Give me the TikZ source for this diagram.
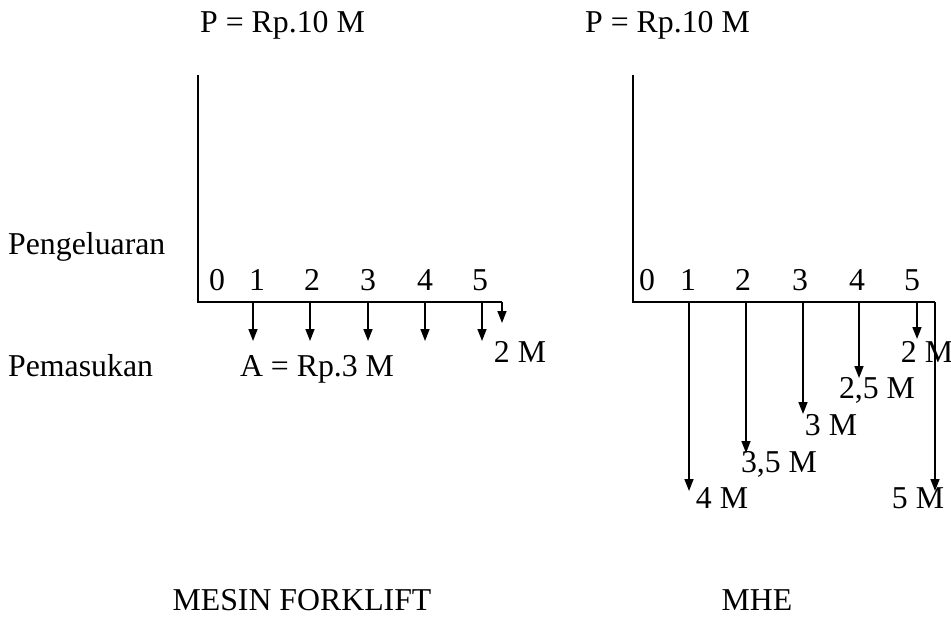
\documentclass[tikz,border=0pt]{standalone}
\usepackage{fontspec}
\setmainfont{Liberation Serif}
\usetikzlibrary{arrows.meta}
\begin{document}
\begin{tikzpicture}[x=1pt,y=-1pt,
  lbl/.style={inner sep=0pt,font=\fontsize{31.8}{38}\selectfont},
  axis/.style={line width=1.6pt},
  flow/.style={line width=1.6pt,-{Triangle[length=12pt,width=9pt]}}]
\useasboundingbox (0,0) rectangle (951,627);
% titles
\node[lbl,anchor=base west] (p1) at (200,32) {P = Rp.10 M};
\node[lbl,anchor=base west] (p2) at (585,32) {P = Rp.10 M};
\node[lbl,anchor=base west] (keluar) at (8,254) {Pengeluaran};
\node[lbl,anchor=base west] (masuk) at (8,376) {Pemasukan};
\node[lbl,anchor=base] (ann) at (317,376) {A = Rp.3 M};
\node[lbl,anchor=base] (t1) at (302,610) {MESIN FORKLIFT};
\node[lbl,anchor=base] (t2) at (757,610) {MHE};
% left diagram
\coordinate (L0) at (198,302);
\coordinate (Ltop) at (198,75);
\coordinate (Lend) at (502,302);
\draw[axis] (Ltop) -- (L0) -- (Lend);
\foreach \i/\x in {0/217,1/257,2/312,3/368,4/425,5/480}
  \node[lbl,anchor=base] (ln\i) at (\x,290) {\i};
\foreach \i/\x in {1/253,2/310,3/368,4/425,5/482}{
  \coordinate (la\i) at (\x,302);
  \coordinate (lb\i) at (\x,341);
  \draw[flow] (la\i) -- (lb\i);
}
\coordinate (lc) at (502,323);
\draw[flow] (Lend) -- (lc);
\node[lbl,anchor=base] (l2m) at (520,362) {2 M};
% right diagram
\coordinate (R0) at (633,302);
\coordinate (Rtop) at (633,75);
\coordinate (Rend) at (935,302);
\draw[axis] (Rtop) -- (R0) -- (Rend);
\foreach \i/\x in {0/647,1/688,2/743,3/800,4/857,5/912}
  \node[lbl,anchor=base] (rn\i) at (\x,290) {\i};
\foreach \i/\x/\y in {1/689/491,2/746/453,3/803/414,4/859/378,5/917/339}{
  \coordinate (ra\i) at (\x,302);
  \coordinate (rb\i) at (\x,\y);
  \draw[flow] (ra\i) -- (rb\i);
}
\coordinate (rc) at (935,491);
\draw[flow] (Rend) -- (rc);
\node[lbl,anchor=base] (r2m) at (927,362) {2 M};
\node[lbl,anchor=base] (r25m) at (877,398) {2,5 M};
\node[lbl,anchor=base] (r3m) at (831,435) {3 M};
\node[lbl,anchor=base] (r35m) at (779,472) {3,5 M};
\node[lbl,anchor=base] (r4m) at (722,508) {4 M};
\node[lbl,anchor=base] (r5m) at (918,508) {5 M};
\end{tikzpicture}
\end{document}
